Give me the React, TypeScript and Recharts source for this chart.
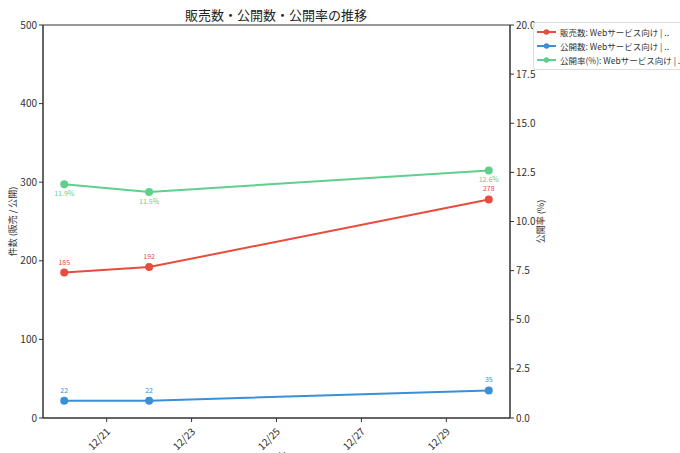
import React from "react";
import {
  LineChart,
  Line,
  XAxis,
  YAxis,
  ReferenceArea,
  LabelList,
} from "recharts";

const days = [20, 22, 30];
const sales = [185, 192, 278];
const published = [22, 22, 35];
const rate = [11.9, 11.5, 12.6];

const xTicks = [21, 23, 25, 27, 29];
const leftTicks = [0, 100, 200, 300, 400, 500];
const rightTicks = [0, 2.5, 5, 7.5, 10, 12.5, 15, 17.5, 20];

const seriesNames = [
  "販売数: Webサービス向け | ..",
  "公開数: Webサービス向け | ..",
  "公開率(%): Webサービス向け | ..",
];
const colors = ["#e74c3c", "#3a8fd6", "#5fd08c"];

const data = days.map((d, i) => ({
  day: d,
  sales: sales[i],
  published: published[i],
  rate: rate[i],
}));

const FONT = "'Noto Sans CJK JP', 'Noto Sans', sans-serif";

const XTick = (props: any) => {
  const { x, y, payload } = props;
  return (
    <g transform={`translate(${x},${y + 4})`}>
      <text
        textAnchor="end"
        transform="rotate(-45)"
        fontSize={10}
        fill="#333"
        fontFamily={FONT}
        dy={6}
      >
        12/{payload.value}
      </text>
    </g>
  );
};

const LegendBox = () => (
  <div
    style={{
      position: "absolute",
      left: 533,
      top: 22,
      border: "1px solid #ddd",
      borderRadius: 3,
      background: "rgba(255,255,255,0.85)",
      padding: "2px 3px",
      fontFamily: FONT,
      fontSize: 8.5,
      color: "#333",
      width: 160,
    }}
  >
    {seriesNames.map((n, i) => (
      <div key={n} style={{ display: "flex", alignItems: "center", height: 14 }}>
        <svg width={19} height={10} style={{ marginRight: 4 }}>
          <line x1={0} y1={5} x2={19} y2={5} stroke={colors[i]} strokeWidth={2} />
          <circle cx={9.5} cy={5} r={2.8} fill={colors[i]} />
        </svg>
        <span style={{ whiteSpace: "nowrap" }}>{n}</span>
      </div>
    ))}
  </div>
);

export default function App() {
  return (
    <div
      style={{
        position: "absolute",
        left: 0,
        top: 0,
        width: 680,
        height: 453,
        overflow: "hidden",
        background: "#fff",
      }}
    >
      <LineChart
        width={680}
        height={453}
        data={data}
        margin={{ top: 25, right: 130, left: 0, bottom: 0 }}
      >
        <text
          x={276}
          y={20}
          textAnchor="middle"
          fontSize={13}
          fontFamily={FONT}
          fill="#222"
        >
          販売数・公開数・公開率の推移
        </text>
        <XAxis
          dataKey="day"
          type="number"
          domain={[19.5, 30.5]}
          ticks={xTicks}
          tick={<XTick />}
          height={35}
          tickLine={{ stroke: "#333" }}
          axisLine={{ stroke: "#333" }}
          tickSize={4}
          label={{
            value: "日付",
            position: "insideBottom",
            offset: -8,
            fontSize: 10,
            fill: "#333",
            fontFamily: FONT,
          }}
        />
        <YAxis
          yAxisId="left"
          domain={[0, 500]}
          ticks={leftTicks}
          width={43}
          tickSize={4}
          tick={{ fontSize: 10, fill: "#333", fontFamily: FONT }}
          tickLine={{ stroke: "#333" }}
          axisLine={{ stroke: "#333" }}
          label={{
            value: "件数 (販売 / 公開)",
            angle: -90,
            position: "insideLeft",
            offset: 13,
            fontSize: 9,
            fill: "#333",
            fontFamily: FONT,
            style: { textAnchor: "middle" },
          }}
        />
        <YAxis
          yAxisId="right"
          orientation="right"
          domain={[0, 20]}
          ticks={rightTicks}
          tickFormatter={(v: number) => v.toFixed(1)}
          width={40}
          tickSize={4}
          tick={{ fontSize: 10, fill: "#333", fontFamily: FONT }}
          tickLine={{ stroke: "#333" }}
          axisLine={{ stroke: "#333" }}
          label={{
            value: "公開率 (%)",
            angle: -90,
            position: "insideRight",
            offset: 9,
            fontSize: 9,
            fill: "#333",
            fontFamily: FONT,
            style: { textAnchor: "middle" },
          }}
        />
        <ReferenceArea
          yAxisId="left"
          x1={19.5}
          x2={30.5}
          y1={0}
          y2={500}
          fill="none"
          stroke="#333"
          strokeWidth={1}
        />
        <Line
          yAxisId="left"
          dataKey="sales"
          stroke={colors[0]}
          strokeWidth={2}
          dot={{ r: 3, fill: colors[0], stroke: colors[0] }}
          isAnimationActive={false}
        >
          <LabelList
            dataKey="sales"
            position="top"
            offset={8}
            fontSize={7}
            fill={colors[0]}
            fontFamily={FONT}
          />
        </Line>
        <Line
          yAxisId="left"
          dataKey="published"
          stroke={colors[1]}
          strokeWidth={2}
          dot={{ r: 3, fill: colors[1], stroke: colors[1] }}
          isAnimationActive={false}
        >
          <LabelList
            dataKey="published"
            position="top"
            offset={8}
            fontSize={7}
            fill={colors[1]}
            fontFamily={FONT}
          />
        </Line>
        <Line
          yAxisId="right"
          dataKey="rate"
          stroke={colors[2]}
          strokeWidth={2}
          dot={{ r: 3, fill: colors[2], stroke: colors[2] }}
          isAnimationActive={false}
        >
          <LabelList
            dataKey="rate"
            position="bottom"
            offset={7}
            fontSize={7}
            fill={colors[2]}
            fontFamily={FONT}
            formatter={(v: any) => `${Number(v).toFixed(1)}%`}
          />
        </Line>
      </LineChart>
      <LegendBox />
    </div>
  );
}
